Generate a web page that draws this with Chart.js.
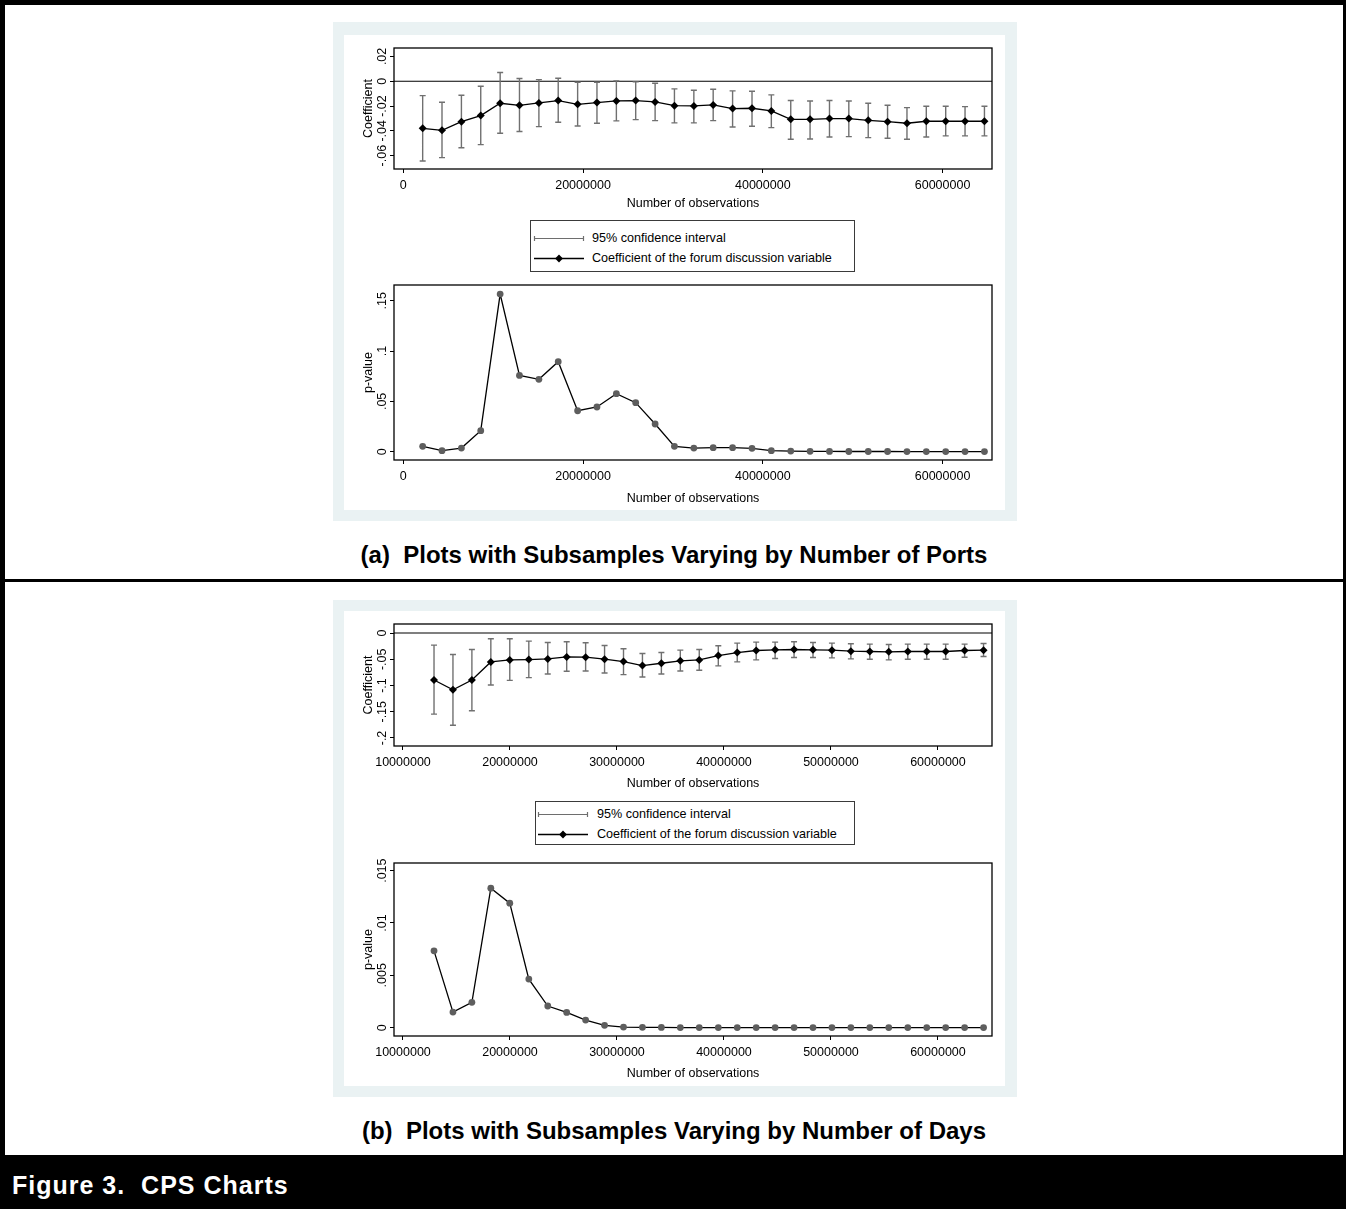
<!DOCTYPE html>
<html lang="en">
<head>
<meta charset="UTF-8">
<title>Figure 3. CPS Charts</title>
<style>
  body { margin: 0; width: 1346px; height: 1209px; position: relative; overflow: hidden; background: #fff;
         font-family: 'Liberation Sans', Arial, Helvetica, sans-serif; color: #000; }
  .black { position: absolute; background: #000; }
  .panel { position: absolute; background: #eaf2f3; }
  .inner { position: absolute; background: #fff; }
  canvas { position: absolute; }
  .legend { position: absolute; border: 1px solid #3a3a3a; background: #fff; box-sizing: border-box; }
  .legend .txt { position: absolute; font-size: 12.6px; line-height: 14px; white-space: nowrap; }
  .legend svg { position: absolute; left: 0; top: 0; }
  .caption { position: absolute; left: 0; width: 1346px; text-align: center; font-weight: bold; font-size: 24px; white-space: nowrap; }
  .footer { position: absolute; left: 12px; color: #fff; font-weight: bold; font-size: 25px; letter-spacing: 1px; white-space: nowrap; }
</style>
</head>
<body>

<!-- page frame -->
<div class="black" style="left:0;top:0;width:1346px;height:5px"></div>
<div class="black" style="left:0;top:0;width:5px;height:1209px"></div>
<div class="black" style="left:1343px;top:0;width:3px;height:1209px"></div>
<div class="black" style="left:0;top:579px;width:1346px;height:3px"></div>
<div class="black" style="left:0;top:1155px;width:1346px;height:54px"></div>

<!-- panel (a) -->
<div class="panel" style="left:333px;top:22px;width:684px;height:499px"></div>
<div class="inner" style="left:344px;top:35px;width:661px;height:475px"></div>
<canvas id="coefA" width="661" height="180" style="left:344px;top:35px"></canvas>
<canvas id="pvalA" width="661" height="235" style="left:344px;top:275px"></canvas>
<div class="legend" style="left:530px;top:220px;width:325px;height:52px">
  <svg width="325" height="52">
    <g stroke="#6e6e6e" stroke-width="1.2">
      <line x1="3" y1="17.5" x2="53" y2="17.5"/>
      <line x1="3.5" y1="15" x2="3.5" y2="20"/>
      <line x1="52.5" y1="15" x2="52.5" y2="20"/>
    </g>
    <line x1="3" y1="37.5" x2="53" y2="37.5" stroke="#000" stroke-width="1.3"/>
    <polygon points="28,33.6 31.9,37.5 28,41.4 24.1,37.5" fill="#000"/>
  </svg>
  <div class="txt" style="left:61px;top:10px">95% confidence interval</div>
  <div class="txt" style="left:61px;top:30px">Coefficient of the forum discussion variable</div>
</div>
<div class="caption" style="top:541px;left:1px">(a)&nbsp; Plots with Subsamples Varying by Number of Ports</div>

<!-- panel (b) -->
<div class="panel" style="left:333px;top:600px;width:684px;height:497px"></div>
<div class="inner" style="left:344px;top:611px;width:661px;height:475px"></div>
<canvas id="coefB" width="661" height="184" style="left:344px;top:611px"></canvas>
<canvas id="pvalB" width="661" height="235" style="left:344px;top:850px"></canvas>
<div class="legend" style="left:535px;top:801px;width:320px;height:44px">
  <svg width="320" height="44">
    <g stroke="#6e6e6e" stroke-width="1.2">
      <line x1="2" y1="12.5" x2="52" y2="12.5"/>
      <line x1="2.5" y1="10" x2="2.5" y2="15"/>
      <line x1="51.5" y1="10" x2="51.5" y2="15"/>
    </g>
    <line x1="2" y1="32.5" x2="52" y2="32.5" stroke="#000" stroke-width="1.3"/>
    <polygon points="27,28.6 30.9,32.5 27,36.4 23.1,32.5" fill="#000"/>
  </svg>
  <div class="txt" style="left:61px;top:5px">95% confidence interval</div>
  <div class="txt" style="left:61px;top:25px">Coefficient of the forum discussion variable</div>
</div>
<div class="caption" style="top:1117px;left:1px">(b)&nbsp; Plots with Subsamples Varying by Number of Days</div>

<div class="footer" style="top:1171px">Figure 3.&nbsp; CPS Charts</div>

<script src="https://cdn.jsdelivr.net/npm/chart.js"></script>
<script>
// ---- panel (a): subsamples varying by number of ports ----
const obsA = [2160000, 4310000, 6470000, 8620000, 10780000, 12930000, 15090000, 17240000, 19400000, 21550000,
  23710000, 25860000, 28020000, 30170000, 32330000, 34480000, 36640000, 38800000, 40950000, 43110000,
  45260000, 47420000, 49570000, 51730000, 53880000, 56040000, 58190000, 60350000, 62500000, 64660000];
const coefA = [-0.0380, -0.0396, -0.0326, -0.0277, -0.0178, -0.0194, -0.0175, -0.0156, -0.0186, -0.0172,
  -0.0159, -0.0156, -0.0167, -0.0197, -0.0199, -0.0191, -0.0221, -0.0218, -0.0240, -0.0307,
  -0.0307, -0.0301, -0.0301, -0.0315, -0.0326, -0.0339, -0.0323, -0.0323, -0.0323, -0.0323];
const ciLowA = [-0.0643, -0.0616, -0.0536, -0.0511, -0.0420, -0.0406, -0.0366, -0.0331, -0.0361, -0.0339,
  -0.0320, -0.0310, -0.0318, -0.0336, -0.0336, -0.0318, -0.0369, -0.0363, -0.0374, -0.0468,
  -0.0466, -0.0450, -0.0447, -0.0455, -0.0460, -0.0468, -0.0450, -0.0441, -0.0441, -0.0441];
const ciHighA = [-0.0116, -0.0170, -0.0113, -0.0040, 0.0070, 0.0022, 0.0013, 0.0024, -0.0008, -0.0008,
  0.0003, -0.0005, -0.0016, -0.0062, -0.0073, -0.0065, -0.0078, -0.0081, -0.0110, -0.0156,
  -0.0159, -0.0156, -0.0159, -0.0178, -0.0194, -0.0213, -0.0202, -0.0202, -0.0205, -0.0202];
const pvalA = [0.0053, 0.0010, 0.0036, 0.0209, 0.1566, 0.0758, 0.0719, 0.0894, 0.0407, 0.0444,
  0.0576, 0.0487, 0.0275, 0.0053, 0.0036, 0.0040, 0.0040, 0.0033, 0.0010, 0.0006,
  0.0004, 0.0003, 0.0002, 0.0002, 0.0002, 0.0001, 0.0001, 0.0001, 0.0001, 0.0001];

// ---- panel (b): subsamples varying by number of days ----
const obsB = [12900000, 14670000, 16440000, 18210000, 19980000, 21760000, 23530000, 25300000, 27070000, 28840000,
  30610000, 32380000, 34150000, 35920000, 37690000, 39470000, 41240000, 43010000, 44780000, 46550000,
  48320000, 50090000, 51860000, 53630000, 55400000, 57180000, 58950000, 60720000, 62490000, 64260000];
const coefB = [-0.0895, -0.1080, -0.0895, -0.0550, -0.0511, -0.0505, -0.0492, -0.0454, -0.0460, -0.0498,
  -0.0543, -0.0620, -0.0575, -0.0530, -0.0511, -0.0428, -0.0371, -0.0332, -0.0319, -0.0313,
  -0.0319, -0.0326, -0.0345, -0.0351, -0.0358, -0.0351, -0.0351, -0.0351, -0.0332, -0.0326];
const ciLowB = [-0.1546, -0.1757, -0.1482, -0.0990, -0.0901, -0.0850, -0.0780, -0.0729, -0.0722, -0.0760,
  -0.0792, -0.0837, -0.0780, -0.0722, -0.0709, -0.0626, -0.0550, -0.0511, -0.0486, -0.0467,
  -0.0467, -0.0473, -0.0492, -0.0498, -0.0511, -0.0498, -0.0498, -0.0498, -0.0460, -0.0447];
const ciHighB = [-0.0230, -0.0409, -0.0313, -0.0109, -0.0109, -0.0153, -0.0179, -0.0166, -0.0185, -0.0236,
  -0.0300, -0.0390, -0.0371, -0.0326, -0.0313, -0.0243, -0.0192, -0.0173, -0.0173, -0.0166,
  -0.0179, -0.0192, -0.0204, -0.0211, -0.0217, -0.0211, -0.0211, -0.0211, -0.0211, -0.0198];
const pvalB = [0.00734, 0.00149, 0.00242, 0.01332, 0.01189, 0.00464, 0.00207, 0.00146, 0.00073, 0.00022,
  0.00006, 0.00003, 0.00002, 0.00001, 0.00001, 0.00001, 0.00001, 0.00001, 0.00001, 0.00001,
  0.00001, 0.00001, 0.00001, 0.00001, 0.00001, 0.00001, 0.00001, 0.00001, 0.00001, 0.00001];

// ---- ticks ----
const xTicksA = [0, 20000000, 40000000, 60000000];
const xTicksB = [10000000, 20000000, 30000000, 40000000, 50000000, 60000000];
const coefTicksA = [0.02, 0, -0.02, -0.04, -0.06];
const coefTickLabelsA = ['.02', '0', '-.02', '-.04', '-.06'];
const pTicksA = [0, 0.05, 0.1, 0.15];
const pTickLabelsA = ['0', '.05', '.1', '.15'];
const coefTicksB = [0, -0.05, -0.1, -0.15, -0.2];
const coefTickLabelsB = ['0', '-.05', '-.1', '-.15', '-.2'];
const pTicksB = [0, 0.005, 0.01, 0.015];
const pTickLabelsB = ['0', '.005', '.01', '.015'];

const FONT = "'Liberation Sans', Arial, Helvetica, sans-serif";
Chart.defaults.font.family = FONT;
Chart.defaults.font.size = 12.5;
Chart.defaults.color = '#000';

// box around the plot region
const framePlugin = {
  id: 'frame',
  afterDraw(chart) {
    const a = chart.chartArea, ctx = chart.ctx;
    ctx.save();
    ctx.strokeStyle = '#000';
    ctx.lineWidth = 1.3;
    ctx.strokeRect(a.left, a.top, a.right - a.left, a.bottom - a.top);
    ctx.restore();
  }
};

// horizontal reference line at y = 0
const zeroLinePlugin = {
  id: 'zeroLine',
  beforeDatasetsDraw(chart) {
    const a = chart.chartArea, ctx = chart.ctx;
    const py = chart.scales.y.getPixelForValue(0);
    ctx.save();
    ctx.strokeStyle = '#000';
    ctx.lineWidth = 1.1;
    ctx.beginPath();
    ctx.moveTo(a.left, py);
    ctx.lineTo(a.right, py);
    ctx.stroke();
    ctx.restore();
  }
};

// capped 95% confidence interval spikes
function ciPlugin(xs, lo, hi) {
  return {
    id: 'ciBars',
    beforeDatasetsDraw(chart) {
      const ctx = chart.ctx, x = chart.scales.x, y = chart.scales.y;
      ctx.save();
      ctx.strokeStyle = '#707070';
      ctx.lineWidth = 1.4;
      ctx.beginPath();
      xs.forEach((v, i) => {
        const px = x.getPixelForValue(v);
        const top = y.getPixelForValue(hi[i]);
        const bot = y.getPixelForValue(lo[i]);
        ctx.moveTo(px, top); ctx.lineTo(px, bot);
        ctx.moveTo(px - 3, top); ctx.lineTo(px + 3, top);
        ctx.moveTo(px - 3, bot); ctx.lineTo(px + 3, bot);
      });
      ctx.stroke();
      ctx.restore();
    }
  };
}

// Stata style vertical y tick labels
function yLabelPlugin(values, labels) {
  return {
    id: 'yRotLabels',
    afterDraw(chart) {
      const ctx = chart.ctx, y = chart.scales.y;
      ctx.save();
      ctx.fillStyle = '#000';
      ctx.font = '12.5px ' + FONT;
      ctx.textAlign = 'center';
      ctx.textBaseline = 'middle';
      values.forEach((v, i) => {
        ctx.save();
        ctx.translate(y.left + 39, y.getPixelForValue(v));
        ctx.rotate(-Math.PI / 2);
        ctx.fillText(labels[i], 0, 0);
        ctx.restore();
      });
      ctx.restore();
    }
  };
}

function stataChart(id, o) {
  const canvas = document.getElementById(id);
  const h = canvas.height;
  const plugins = [framePlugin, yLabelPlugin(o.yTicks, o.yLabels)];
  if (o.ciLow) plugins.unshift(zeroLinePlugin, ciPlugin(o.xs, o.ciLow, o.ciHigh));
  return new Chart(canvas, {
    type: 'line',
    data: {
      datasets: [{
        data: o.xs.map((x, i) => ({ x: x, y: o.ys[i] })),
        borderColor: '#000',
        borderWidth: 1.3,
        pointStyle: o.marker,
        pointRadius: o.radius,
        pointBackgroundColor: o.markerColor,
        pointBorderColor: o.markerColor,
        pointBorderWidth: 0,
        tension: 0,
        fill: false
      }]
    },
    options: {
      responsive: false,
      animation: false,
      events: [],
      layout: { padding: { top: o.top, right: 13, left: 0, bottom: 0 } },
      plugins: { legend: { display: false }, tooltip: { enabled: false } },
      scales: {
        x: {
          type: 'linear',
          min: o.xMin,
          max: o.xMax,
          afterBuildTicks: s => { s.ticks = o.xTicks.map(v => ({ value: v })); },
          afterFit: s => { s.height = h - o.top - o.plotH; },
          ticks: { autoSkip: false, maxRotation: 0, padding: 5, callback: v => String(v) },
          grid: { drawOnChartArea: false, tickLength: 4, color: '#000', lineWidth: 1 },
          border: { display: false },
          title: { display: true, text: 'Number of observations', padding: { top: 0, bottom: 4 } }
        },
        y: {
          type: 'linear',
          min: o.yMin,
          max: o.yMax,
          afterBuildTicks: s => { s.ticks = o.yTicks.map(v => ({ value: v })); },
          afterFit: s => { s.width = 50; },
          ticks: { display: false },
          grid: { drawOnChartArea: false, tickLength: 4, color: '#000', lineWidth: 1 },
          border: { display: false },
          title: { display: true, text: o.yTitle, padding: { top: 17, bottom: 0 } }
        }
      }
    },
    plugins: plugins
  });
}

stataChart('coefA', {
  xs: obsA, ys: coefA, ciLow: ciLowA, ciHigh: ciHighA,
  xMin: -1030000, xMax: 65500000, xTicks: xTicksA,
  yMin: -0.0708, yMax: 0.0268, yTicks: coefTicksA, yLabels: coefTickLabelsA, yTitle: 'Coefficient',
  marker: 'rectRot', radius: 4, markerColor: '#000', top: 13, plotH: 121
});
stataChart('pvalA', {
  xs: obsA, ys: pvalA,
  xMin: -1030000, xMax: 65500000, xTicks: xTicksA,
  yMin: -0.00825, yMax: 0.1656, yTicks: pTicksA, yLabels: pTickLabelsA, yTitle: 'p-value',
  marker: 'circle', radius: 3.4, markerColor: '#5e5e5e', top: 10, plotH: 175
});
stataChart('coefB', {
  xs: obsB, ys: coefB, ciLow: ciLowB, ciHigh: ciHighB,
  xMin: 9160000, xMax: 65050000, xTicks: xTicksB,
  yMin: -0.2153, yMax: 0.0173, yTicks: coefTicksB, yLabels: coefTickLabelsB, yTitle: 'Coefficient',
  marker: 'rectRot', radius: 4, markerColor: '#000', top: 13, plotH: 122
});
stataChart('pvalB', {
  xs: obsB, ys: pvalB,
  xMin: 9160000, xMax: 65050000, xTicks: xTicksB,
  yMin: -0.000795, yMax: 0.01573, yTicks: pTicksB, yLabels: pTickLabelsB, yTitle: 'p-value',
  marker: 'circle', radius: 3.4, markerColor: '#5e5e5e', top: 13, plotH: 173
});
</script>
</body>
</html>
